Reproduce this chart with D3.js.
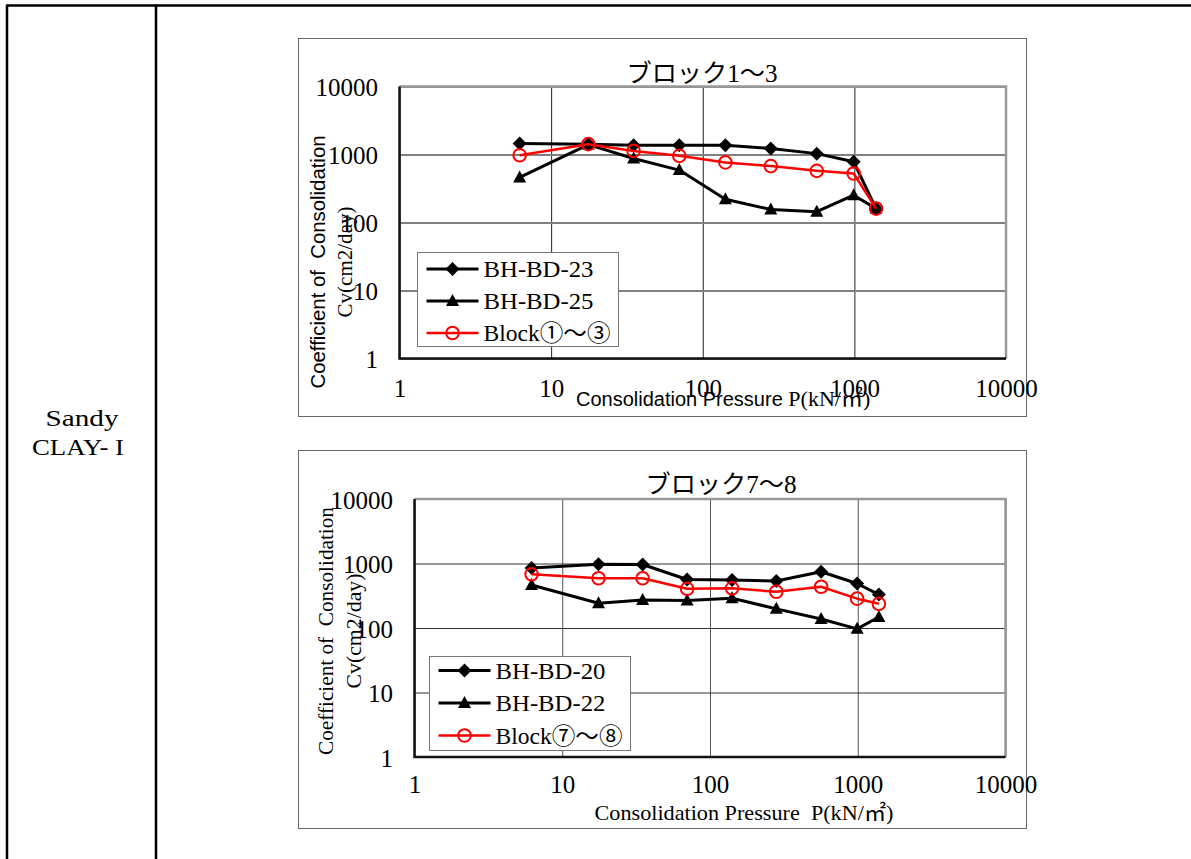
<!DOCTYPE html>
<html>
<head>
<meta charset="utf-8">
<script src="https://cdn.jsdelivr.net/npm/d3@7/dist/d3.min.js"></script>
<style>
  body { margin: 0; background: #fff; }
  svg { display: block; }
</style>
</head>
<body>
<svg id="sheet" width="1191" height="859"></svg>
<script>
// Consolidation pressure steps P (kN/m²), shared by every series
const pressure = [6.2, 17.6, 35, 70, 141, 281, 565, 990, 1390];

// Block 1–3 : coefficient of consolidation Cv (cm²/day)
const bhbd23 = [1450, 1420, 1370, 1370, 1370, 1225, 1030, 780, 160];
const bhbd25 = [460, 1400, 875, 590, 220, 155, 144, 252, 160];
const block13 = [975, 1420, 1130, 955, 765, 675, 575, 525, 160];

// Block 7–8 : coefficient of consolidation Cv (cm²/day)
const bhbd20 = [850, 975, 965, 565, 555, 535, 745, 490, 330];
const bhbd22 = [465, 242, 272, 266, 290, 198, 138, 97, 148];
const block78 = [680, 590, 590, 405, 412, 365, 436, 285, 237];

const seriesNamesTop = ["BH-BD-23", "BH-BD-25", "Block①～③"];
const seriesNamesBottom = ["BH-BD-20", "BH-BD-22", "Block⑦～⑧"];
const chartTitles = ["ブロック1～3", "ブロック7～8"];
const xTickValues = [1, 10, 100, 1000, 10000];
const yTickValues = [1, 10, 100, 1000, 10000];
const rowLabel = ["Sandy", "CLAY- I"];

const svg = d3.select("#sheet");
const SERIF = "'Liberation Serif', 'Noto Sans CJK JP', serif";
const SANS = "'Liberation Sans', 'Noto Sans CJK JP', sans-serif";

// ---- table frame ----
svg.append("line").attr("x1", 7).attr("x2", 1191).attr("y1", 5.5).attr("y2", 5.5)
  .attr("stroke", "#000").attr("stroke-width", 2.5);
[7, 156].forEach(x => svg.append("line").attr("x1", x).attr("x2", x)
  .attr("y1", 4.5).attr("y2", 859).attr("stroke", "#000").attr("stroke-width", 2.5));

svg.append("text").attr("x", 82).attr("y", 426).attr("text-anchor", "middle")
  .attr("font-family", SERIF).attr("font-size", 23)
  .attr("textLength", 73).attr("lengthAdjust", "spacingAndGlyphs").text(rowLabel[0]);
svg.append("text").attr("x", 78).attr("y", 455).attr("text-anchor", "middle")
  .attr("font-family", SERIF).attr("font-size", 23).attr("xml:space", "preserve")
  .attr("textLength", 92).attr("lengthAdjust", "spacingAndGlyphs").text(rowLabel[1]);

// marker shapes
const markerPath = {
  diamond: "M0,-7L7,0L0,7L-7,0Z",
  triangle: "M0,-7L6.5,5L-6.5,5Z",
  circle: d3.symbol(d3.symbolCircle, Math.PI * 6.3 * 6.3)()
};

function drawMarker(g, type, x, y, color) {
  const p = g.append("path").attr("d", markerPath[type])
    .attr("transform", `translate(${x},${y})`);
  if (type === "circle") p.attr("fill", "none").attr("stroke", color).attr("stroke-width", 2);
  else p.attr("fill", color);
}

function drawChart(cfg) {
  const g = svg.append("g");
  // outer chart frame
  g.append("rect").attr("x", cfg.frame[0]).attr("y", cfg.frame[1])
    .attr("width", cfg.frame[2]).attr("height", cfg.frame[3])
    .attr("fill", "#fff").attr("stroke", "#666").attr("stroke-width", 1);

  const x = d3.scaleLog().domain([1, 10000]).range([cfg.left, cfg.right]);
  const y = d3.scaleLog().domain([1, 10000]).range([cfg.bottom, cfg.top]);
  const w = cfg.right - cfg.left, h = cfg.bottom - cfg.top;

  // gridlines
  const gx = g.append("g").attr("transform", `translate(0,${cfg.bottom})`)
    .call(d3.axisBottom(x).tickValues(xTickValues).tickSize(-h).tickFormat(""));
  gx.select(".domain").remove();
  gx.selectAll("line").attr("stroke", cfg.vGrid).attr("stroke-width", cfg.vGridW);
  const gy = g.append("g").attr("transform", `translate(${cfg.left},0)`)
    .call(d3.axisLeft(y).tickValues(yTickValues).tickSize(-w).tickFormat(""));
  gy.select(".domain").remove();
  gy.selectAll("line").attr("stroke", cfg.hGrid).attr("stroke-width", cfg.hGridW);

  // plot border: light top/right, dark left/bottom
  g.append("path").attr("d", `M${cfg.left},${cfg.top}H${cfg.right}V${cfg.bottom}`)
    .attr("fill", "none").attr("stroke", "#999").attr("stroke-width", 2.5);
  g.append("path").attr("d", `M${cfg.left},${cfg.top}V${cfg.bottom}H${cfg.right}`)
    .attr("fill", "none").attr("stroke", "#111").attr("stroke-width", 2.5);

  // tick labels
  const fmt = d => String(d);
  const ax = g.append("g").attr("transform", `translate(0,${cfg.xLabelY})`)
    .call(d3.axisBottom(x).tickValues(xTickValues).tickSize(0).tickPadding(0).tickFormat(fmt));
  ax.select(".domain").remove();
  ax.selectAll("text").attr("font-family", SERIF).attr("font-size", 25)
    .attr("fill", "#000").attr("dy", 0).attr("y", 0);
  const ay = g.append("g").attr("transform", `translate(${cfg.yLabelX},0)`)
    .call(d3.axisLeft(y).tickValues(yTickValues).tickSize(0).tickPadding(0).tickFormat(fmt));
  ay.select(".domain").remove();
  ay.selectAll("text").attr("font-family", SERIF).attr("font-size", 25)
    .attr("fill", "#000").attr("dy", "0.36em");

  // title
  g.append("text").attr("x", cfg.titleX).attr("y", cfg.titleY).attr("text-anchor", "middle")
    .attr("font-family", SERIF).attr("font-size", 25)
    .attr("textLength", 151).attr("lengthAdjust", "spacingAndGlyphs").text(cfg.title);

  // axis titles
  cfg.xTitle(g);
  const yt = g.append("text").attr("transform", `translate(${cfg.yTitleX},${cfg.yTitleCY}) rotate(-90)`)
    .attr("text-anchor", "middle").attr("font-family", cfg.yTitleFont)
    .attr("font-size", cfg.yTitleSize).attr("xml:space", "preserve")
    .attr("textLength", cfg.yTitleLen).attr("lengthAdjust", "spacingAndGlyphs")
    .text("Coefficient of  Consolidation");
  if (cfg.yTitleBold) yt.attr("font-weight", "bold");
  g.append("text").attr("transform", `translate(${cfg.yTitle2X},${cfg.yTitleCY}) rotate(-90)`)
    .attr("text-anchor", "middle").attr("font-family", SERIF).attr("font-size", 21)
    .attr("textLength", cfg.yTitle2Len).attr("lengthAdjust", "spacingAndGlyphs")
    .text("Cv(cm2/day)");

  // series
  const line = d3.line().x(d => x(d[0])).y(d => y(d[1]));
  cfg.series.forEach(s => {
    const pts = pressure.map((p, i) => [p, s.values[i]]);
    g.append("path").attr("d", line(pts)).attr("fill", "none")
      .attr("stroke", s.color).attr("stroke-width", s.width).attr("stroke-linejoin", "round");
    pts.forEach(d => drawMarker(g, s.marker, x(d[0]), y(d[1]), s.color));
  });

  // legend
  const L = cfg.legend;
  g.append("rect").attr("x", L.x).attr("y", L.y).attr("width", L.w).attr("height", L.h)
    .attr("fill", "#fff").attr("stroke", "#777").attr("stroke-width", 1);
  cfg.series.forEach((s, i) => {
    const cy = L.y + L.row0 + i * L.step;
    g.append("line").attr("x1", L.x + 9).attr("x2", L.x + 61).attr("y1", cy).attr("y2", cy)
      .attr("stroke", s.color).attr("stroke-width", s.width);
    drawMarker(g, s.marker, L.x + 35, cy, s.color);
    g.append("text").attr("x", L.x + 66).attr("y", cy).attr("dy", "0.36em")
      .attr("font-family", SERIF).attr("font-size", 23).attr("textLength", i === 2 ? 127 : 110)
      .attr("lengthAdjust", "spacingAndGlyphs").text(s.name);
  });
}

// Block 1–3
drawChart({
  frame: [298.5, 38.5, 728, 378],
  left: 399.5, right: 1006, top: 86.5, bottom: 358.5,
  hGrid: "#808080", hGridW: 2, vGrid: "#222", vGridW: 1,
  xLabelY: 397, yLabelX: 378,
  title: chartTitles[0], titleX: 702, titleY: 82,
  yTitleX: 325, yTitle2X: 352, yTitleCY: 262, yTitleFont: SANS, yTitleSize: 20,
  yTitleBold: false, yTitleLen: 253, yTitle2Len: 111,
  xTitle: g => {
    const t = g.append("text").attr("x", 576).attr("y", 406).attr("xml:space", "preserve");
    t.append("tspan").attr("font-family", SANS).attr("font-size", 20).text("Consolidation Pressure ");
    t.append("tspan").attr("font-family", SERIF).attr("font-size", 22).text("P(kN/㎡)");
  },
  legend: { x: 417.5, y: 252.5, w: 201, h: 94, row0: 16.5, step: 32 },
  series: [
    { name: seriesNamesTop[0], values: bhbd23, color: "#000", width: 3, marker: "diamond" },
    { name: seriesNamesTop[1], values: bhbd25, color: "#000", width: 3, marker: "triangle" },
    { name: seriesNamesTop[2], values: block13, color: "#f00", width: 2.5, marker: "circle" }
  ]
});

// Block 7–8
drawChart({
  frame: [298.5, 450.5, 728, 378],
  left: 414.5, right: 1005.5, top: 499, bottom: 757,
  hGrid: "#333", hGridW: 1, vGrid: "#555", vGridW: 1,
  xLabelY: 793, yLabelX: 393,
  title: chartTitles[1], titleX: 721, titleY: 493,
  yTitleX: 333, yTitle2X: 361, yTitleCY: 631, yTitleFont: SERIF, yTitleSize: 21,
  yTitleBold: false, yTitleLen: 248, yTitle2Len: 115,
  xTitle: g => {
    g.append("text").attr("x", 744).attr("y", 820).attr("text-anchor", "middle")
      .attr("xml:space", "preserve").attr("font-family", SERIF).attr("font-size", 21)
      .attr("textLength", 299).attr("lengthAdjust", "spacingAndGlyphs")
      .text("Consolidation Pressure  P(kN/㎡)");
  },
  legend: { x: 429.5, y: 656.5, w: 201, h: 94, row0: 14, step: 32.5 },
  series: [
    { name: seriesNamesBottom[0], values: bhbd20, color: "#000", width: 3, marker: "diamond" },
    { name: seriesNamesBottom[1], values: bhbd22, color: "#000", width: 3, marker: "triangle" },
    { name: seriesNamesBottom[2], values: block78, color: "#f00", width: 2.5, marker: "circle" }
  ]
});
</script>
</body>
</html>
